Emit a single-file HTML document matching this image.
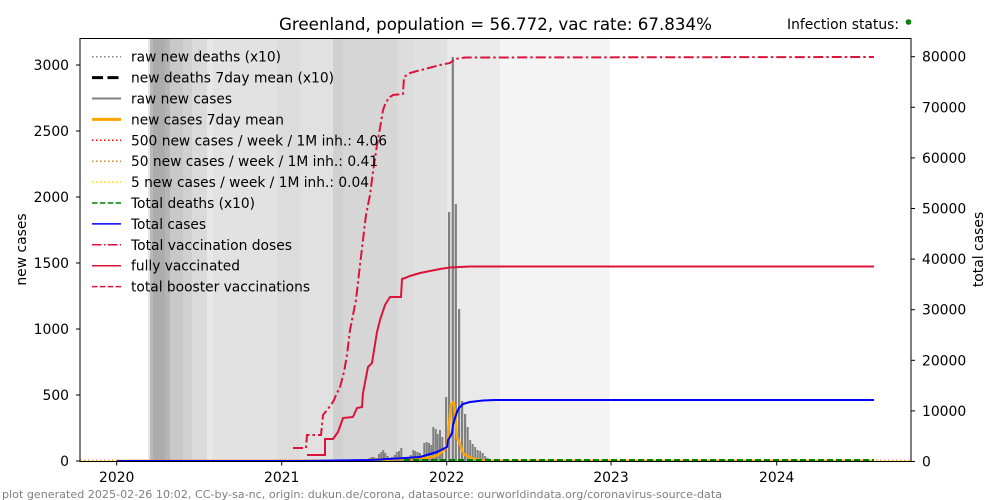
<!DOCTYPE html>
<html><head><meta charset="utf-8"><style>
html,body{margin:0;padding:0;background:#fff;}
svg{display:block;}
text{font-family:"DejaVu Sans","Liberation Sans",sans-serif;}
</style></head><body>
<svg width="1000" height="500" viewBox="0 0 1000 500" xmlns="http://www.w3.org/2000/svg">
<defs><clipPath id="ax"><rect x="80" y="38" width="831" height="423.5"/></clipPath></defs>
<rect width="1000" height="500" fill="#fff"/>
<g clip-path="url(#ax)">
<!-- background bands -->
<rect x="148" y="38" width="2" height="424" fill="#e6e6e6"/>
<rect x="150" y="38" width="3" height="424" fill="#b9b9b9"/>
<rect x="153" y="38" width="12" height="424" fill="#acacac"/>
<rect x="165" y="38" width="5" height="424" fill="#b6b6b6"/>
<rect x="170" y="38" width="13" height="424" fill="#c8c8c8"/>
<rect x="183" y="38" width="9" height="424" fill="#d0d0d0"/>
<rect x="192" y="38" width="15" height="424" fill="#dadada"/>
<rect x="207" y="38" width="6" height="424" fill="#e8e8e8"/>
<rect x="213" y="38" width="64" height="424" fill="#e2e2e2"/>
<rect x="277" y="38" width="23" height="424" fill="#dcdcdc"/>
<rect x="300" y="38" width="33" height="424" fill="#e1e1e1"/>
<rect x="333" y="38" width="10" height="424" fill="#d0d0d0"/>
<rect x="343" y="38" width="54" height="424" fill="#d6d6d6"/>
<rect x="397" y="38" width="16" height="424" fill="#dcdcdc"/>
<rect x="413" y="38" width="34" height="424" fill="#e0e0e0"/>
<rect x="447" y="38" width="53" height="424" fill="#eaeaea"/>
<rect x="500" y="38" width="110" height="424" fill="#f4f4f4"/>

<!-- threshold dotted lines -->
<line x1="80" y1="460.5" x2="911" y2="460.5" stroke="#ff0000" stroke-width="1.5" stroke-dasharray="1.5,2.5"/>
<line x1="80" y1="460.8" x2="911" y2="460.8" stroke="#cd853f" stroke-width="1.5" stroke-dasharray="1.5,2.5"/>
<line x1="80" y1="461" x2="911" y2="461" stroke="#ffc800" stroke-width="1.5" stroke-dasharray="1.5,2.5"/>

<!-- bars raw new cases -->
<g fill="#808080">
<rect x="368.3" y="458" width="2" height="3.5"/>
<rect x="370.7" y="457" width="2" height="4.5"/>
<rect x="373" y="457" width="2" height="4.5"/>
<rect x="375.7" y="458" width="2" height="3.5"/>
<rect x="378" y="454" width="2" height="7.5"/>
<rect x="380.3" y="452" width="2" height="9.5"/>
<rect x="382.3" y="450" width="2" height="11.5"/>
<rect x="384.3" y="453" width="2" height="8.5"/>
<rect x="386.7" y="456" width="2" height="5.5"/>
<rect x="389" y="459" width="2" height="2.5"/>
<rect x="391" y="457" width="2" height="4.5"/>
<rect x="393.7" y="455" width="2" height="6.5"/>
<rect x="395.7" y="452" width="2" height="9.5"/>
<rect x="398" y="451" width="2" height="10.5"/>
<rect x="400.3" y="448" width="2" height="13.5"/>
<rect x="402.3" y="458" width="2" height="3.5"/>
<rect x="405" y="459" width="2" height="2.5"/>
<rect x="407.3" y="458" width="2" height="3.5"/>
<rect x="409.7" y="455" width="2" height="6.5"/>
<rect x="412.3" y="450" width="2" height="11.5"/>
<rect x="414.3" y="451" width="2" height="10.5"/>
<rect x="416.7" y="452" width="2" height="9.5"/>
<rect x="419" y="453" width="2" height="8.5"/>
<rect x="421.3" y="457" width="2" height="4.5"/>
<rect x="423.3" y="443" width="2" height="18.5"/>
<rect x="425.7" y="442" width="2" height="19.5"/>
<rect x="428" y="443" width="2" height="18.5"/>
<rect x="430.3" y="445" width="2" height="16.5"/>
<rect x="432.3" y="427" width="2" height="34.5"/>
<rect x="434.7" y="429" width="2" height="32.5"/>
<rect x="436.7" y="434" width="2" height="27.5"/>
<rect x="439" y="430" width="2" height="31.5"/>
<rect x="441.3" y="437" width="2" height="24.5"/>
<rect x="445" y="397" width="2.2" height="64.5"/>
<rect x="448" y="212" width="2.2" height="249.5"/>
<rect x="451.7" y="57" width="2.2" height="404.5"/>
<rect x="454.7" y="204" width="2.2" height="257.5"/>
<rect x="458" y="309" width="2.2" height="152.5"/>
<rect x="461" y="401" width="2.2" height="60.5"/>
<rect x="464" y="414" width="2.2" height="47.5"/>
<rect x="466.7" y="427" width="2" height="34.5"/>
<rect x="469.2" y="440" width="2" height="21.5"/>
<rect x="471.7" y="444" width="2" height="17.5"/>
<rect x="474.2" y="447" width="2" height="14.5"/>
<rect x="476.7" y="450" width="2" height="11.5"/>
<rect x="479.2" y="451" width="2" height="10.5"/>
<rect x="481.7" y="453" width="2" height="8.5"/>
<rect x="484.2" y="456" width="2" height="5.5"/>
<rect x="486.7" y="458" width="2" height="3.5"/>
</g>

<!-- orange 7day mean -->
<polyline fill="none" stroke="#ffa500" stroke-width="2.5" stroke-linejoin="round" points="117,461 360,461 370,460 380,459 386,460 395,459 405,459 415,458 425,458 432,457 438,455 442,452 445,449 447,444 448,437 449,425 450,415 451,405 453,402 454,404 455,412 456,425 457,438 459,441 461,447 463,453 467,456 473,458.5 480,460 490,461 874,461"/>

<!-- green total deaths dashed -->
<line x1="404" y1="460.3" x2="874" y2="460.3" stroke="#008000" stroke-width="2.5" stroke-dasharray="6,3"/>

<!-- blue total cases -->
<polyline fill="none" stroke="#0000ff" stroke-width="2" stroke-linejoin="round" points="117,461 300,461 370,460 397,458.5 420,457 437,452 443,449 447,447 448,440 450,437 452,433 453,425 455,418 457,412 459,408 463,404 470,402 483,400.5 495,400 874,400"/>

<!-- crimson total vaccination doses dash-dot -->
<polyline fill="none" stroke="#dc143c" stroke-width="2" stroke-dasharray="10,3,2.5,3" points="293,448 306,448 307,435 321,435 323,415 327,410 331,405 334,400 336,395 340,387 344,372 347,355 350,330 352,320 356,300 360,265 363,240 366,215 370,195 373,172 377,145 380,128 383,110 386,102 390,97 393,95 403,94 404,77 410,73 417,71 425,69 440,65 450,63 455,59 465,57.5 874,57"/>

<!-- crimson fully vaccinated -->
<polyline fill="none" stroke="#dc143c" stroke-width="2" points="307,455 325,455 325,439 333,439 338,432 343,418 353,417 357,408 362,407 363,393 368,367 372,363 377,332 380,320 385,305 390,297 401,297 402,279 405,278 410,276 420,273 430,271 440,269 450,267.5 470,266.5 874,266.5"/>
</g>

<!-- axes frame -->
<rect x="80" y="38.5" width="831" height="423" fill="none" stroke="#000" stroke-width="1"/>

<!-- left ticks -->
<g stroke="#000" stroke-width="1">
<line x1="76" y1="461" x2="80" y2="461"/>
<line x1="76" y1="395" x2="80" y2="395"/>
<line x1="76" y1="329" x2="80" y2="329"/>
<line x1="76" y1="263" x2="80" y2="263"/>
<line x1="76" y1="197" x2="80" y2="197"/>
<line x1="76" y1="131" x2="80" y2="131"/>
<line x1="76" y1="65" x2="80" y2="65"/>
<!-- right ticks -->
<line x1="911" y1="461.5" x2="915" y2="461.5"/>
<line x1="911" y1="410.9" x2="915" y2="410.9"/>
<line x1="911" y1="360.3" x2="915" y2="360.3"/>
<line x1="911" y1="309.7" x2="915" y2="309.7"/>
<line x1="911" y1="259.1" x2="915" y2="259.1"/>
<line x1="911" y1="208.5" x2="915" y2="208.5"/>
<line x1="911" y1="157.9" x2="915" y2="157.9"/>
<line x1="911" y1="107.3" x2="915" y2="107.3"/>
<line x1="911" y1="56.7" x2="915" y2="56.7"/>
<!-- x ticks -->
<line x1="116.7" y1="461.5" x2="116.7" y2="465.5"/>
<line x1="281.7" y1="461.5" x2="281.7" y2="465.5"/>
<line x1="446.7" y1="461.5" x2="446.7" y2="465.5"/>
<line x1="611" y1="461.5" x2="611" y2="465.5"/>
<line x1="776.7" y1="461.5" x2="776.7" y2="465.5"/>
</g>

<g font-size="13.9" fill="#000">
<g text-anchor="end">
<text x="69" y="466">0</text>
<text x="69" y="400">500</text>
<text x="69" y="334">1000</text>
<text x="69" y="268">1500</text>
<text x="69" y="202">2000</text>
<text x="69" y="136">2500</text>
<text x="69" y="70">3000</text>
</g>
<text x="922" y="466.5">0</text>
<text x="922" y="415.9">10000</text>
<text x="922" y="365.3">20000</text>
<text x="922" y="314.7">30000</text>
<text x="922" y="264.1">40000</text>
<text x="922" y="213.5">50000</text>
<text x="922" y="162.9">60000</text>
<text x="922" y="112.3">70000</text>
<text x="922" y="61.7">80000</text>
<g text-anchor="middle">
<text x="116.7" y="482">2020</text>
<text x="281.7" y="482">2021</text>
<text x="446.7" y="482">2022</text>
<text x="611" y="482">2023</text>
<text x="776.7" y="482">2024</text>
</g>
<text transform="translate(26,249.5) rotate(-90)" text-anchor="middle">new cases</text>
<text transform="translate(983,249.5) rotate(-90)" text-anchor="middle">total cases</text>
</g>

<!-- title -->
<text x="279" y="30" font-size="16.5" textLength="433" lengthAdjust="spacingAndGlyphs">Greenland, population = 56.772, vac rate: 67.834%</text>
<text x="787" y="29" font-size="13.9" textLength="112" lengthAdjust="spacingAndGlyphs">Infection status:</text>
<circle cx="908.5" cy="22" r="2.8" fill="#008000"/>

<!-- legend -->
<g stroke-linecap="butt" fill="none">
<line x1="92" y1="56.7" x2="121" y2="56.7" stroke="#808080" stroke-width="1.5" stroke-dasharray="1.5,2.5"/>
<line x1="92" y1="77.6" x2="121" y2="77.6" stroke="#000" stroke-width="3" stroke-dasharray="11,4.5"/>
<line x1="92" y1="98.5" x2="121" y2="98.5" stroke="#808080" stroke-width="2"/>
<line x1="92" y1="119.4" x2="121" y2="119.4" stroke="#ffa500" stroke-width="3"/>
<line x1="92" y1="140.3" x2="121" y2="140.3" stroke="#ff0000" stroke-width="1.5" stroke-dasharray="1.5,2.5"/>
<line x1="92" y1="161.2" x2="121" y2="161.2" stroke="#cd853f" stroke-width="1.5" stroke-dasharray="1.5,2.5"/>
<line x1="92" y1="182.1" x2="121" y2="182.1" stroke="#ffd700" stroke-width="1.5" stroke-dasharray="1.5,2.5"/>
<line x1="92" y1="203" x2="121" y2="203" stroke="#008000" stroke-width="1.5" stroke-dasharray="5.5,2.4"/>
<line x1="92" y1="223.9" x2="121" y2="223.9" stroke="#0000ff" stroke-width="1.5"/>
<line x1="92" y1="244.8" x2="121" y2="244.8" stroke="#dc143c" stroke-width="1.5" stroke-dasharray="9.6,2.4,1.5,2.4"/>
<line x1="92" y1="265.7" x2="121" y2="265.7" stroke="#dc143c" stroke-width="1.5"/>
<line x1="92" y1="286.6" x2="121" y2="286.6" stroke="#dc143c" stroke-width="1.5" stroke-dasharray="5.5,2.4"/>
</g>
<g font-size="13.9" fill="#000" lengthAdjust="spacingAndGlyphs">
<text x="131" y="61.7" textLength="150" lengthAdjust="spacingAndGlyphs">raw new deaths (x10)</text>
<text x="131" y="82.6" textLength="203" lengthAdjust="spacingAndGlyphs">new deaths 7day mean (x10)</text>
<text x="131" y="103.5" textLength="101" lengthAdjust="spacingAndGlyphs">raw new cases</text>
<text x="131" y="124.4" textLength="153" lengthAdjust="spacingAndGlyphs">new cases 7day mean</text>
<text x="131" y="145.3" textLength="256" lengthAdjust="spacingAndGlyphs">500 new cases / week / 1M inh.: 4.06</text>
<text x="131" y="166.2" textLength="247" lengthAdjust="spacingAndGlyphs">50 new cases / week / 1M inh.: 0.41</text>
<text x="131" y="187.1" textLength="238" lengthAdjust="spacingAndGlyphs">5 new cases / week / 1M inh.: 0.04</text>
<text x="131" y="208" textLength="124" lengthAdjust="spacingAndGlyphs">Total deaths (x10)</text>
<text x="131" y="228.9" textLength="75" lengthAdjust="spacingAndGlyphs">Total cases</text>
<text x="131" y="249.8" textLength="161" lengthAdjust="spacingAndGlyphs">Total vaccination doses</text>
<text x="131" y="270.7" textLength="109" lengthAdjust="spacingAndGlyphs">fully vaccinated</text>
<text x="131" y="291.6" textLength="179" lengthAdjust="spacingAndGlyphs">total booster vaccinations</text>
</g>

<!-- footer -->
<text x="2" y="498" font-size="11" fill="#808080" textLength="720" lengthAdjust="spacingAndGlyphs">plot generated 2025-02-26 10:02, CC-by-sa-nc, origin: dukun.de/corona, datasource: ourworldindata.org/coronavirus-source-data</text>
</svg>
</body></html>
